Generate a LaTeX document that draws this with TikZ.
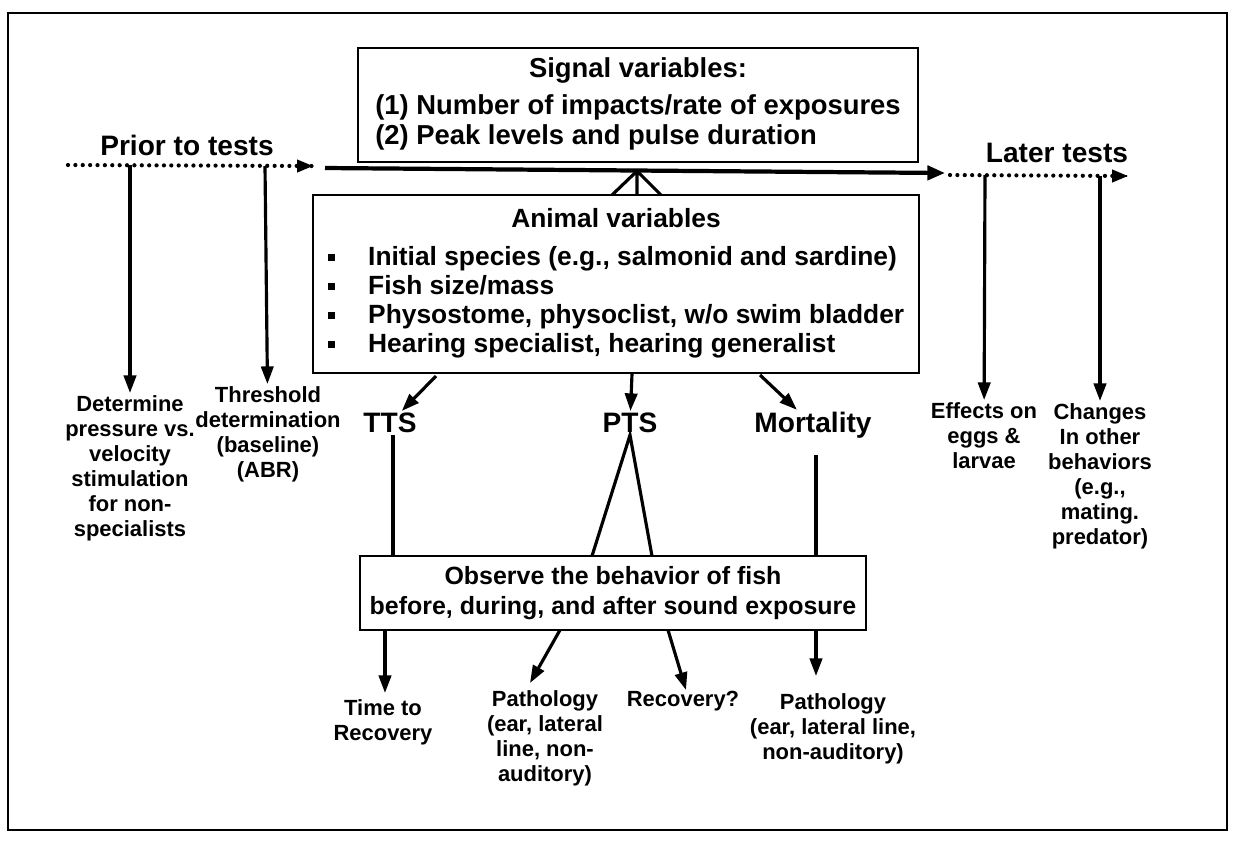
\documentclass[tikz,border=0pt]{standalone}
\usepackage{fontspec}
\setmainfont{Liberation Sans}
\usetikzlibrary{arrows.meta}

\tikzset{
  box/.style={draw,line width=1.1pt,inner sep=0pt},
  arr/.style={line width=1.8pt,-{Triangle[width=7pt,length=10pt]}},
  lnk/.style={line width=1.8pt},
  dots/.style={line width=2.4pt,dash pattern=on 0pt off 4.2pt,line cap=round},
  lbl/.style={font=\bfseries\fontsize{12.5}{14.3}\selectfont,align=center,inner sep=1pt},
  big/.style={font=\bfseries\fontsize{16}{19}\selectfont,inner sep=1pt},
}
\newcommand{\sqbul}{\raisebox{2.5pt}{\rule{4pt}{4pt}}}

\begin{document}
\begin{tikzpicture}[x=0.02cm,y=-0.02cm]
\useasboundingbox (0,0) rectangle (1241,843);
\draw[line width=0.9pt] (8,13) rectangle (1227,830);

% boxes
\node[box,font=\bfseries\fontsize{15.6}{17.2}\selectfont,minimum width=11.2cm,minimum height=2.28cm] (sig) at (638,105)
  {\begin{tabular}{@{}l@{}}\multicolumn{1}{@{}c@{}}{Signal variables:}\\[4pt]
   (1) Number of impacts/rate of exposures\\
   (2) Peak levels and pulse duration\end{tabular}};
\node[box,font=\bfseries\fontsize{15}{16.5}\selectfont,minimum width=12.14cm,minimum height=3.56cm] (anim) at (616,284)
  {\begin{tabular}{@{}l@{\hspace{19pt}}l@{}}\multicolumn{2}{@{}c@{}}{Animal variables}\\[5pt]
   \sqbul & Initial species (e.g., salmonid and sardine)\\
   \sqbul & Fish size/mass\\
   \sqbul & Physostome, physoclist, w/o swim bladder\\
   \sqbul & Hearing specialist, hearing generalist\end{tabular}};
\node[box,font=\bfseries\fontsize{14.2}{17.5}\selectfont,align=center,
  minimum width=10.12cm,minimum height=1.48cm] (obs) at (613,593)
  {Observe the behavior of fish\\before, during, and after sound exposure};

% time line
\node[big] (prior) at (187,145) {Prior to tests};
\node[big] (later) at (1057,153) {Later tests};
\coordinate (p0) at (68,165);
\coordinate (p1) at (312,166);
\coordinate (t0) at (325,168);
\coordinate (t1) at (945,173);
\coordinate (l0) at (950,175);
\coordinate (l1) at (1127,176);
\draw[dots] (p0)--(p1);
\draw[line width=1.6pt,-{Triangle[width=7pt,length=9pt]}] (p1)--++(1,0);
\draw[line width=2.4pt,-{Triangle[width=8pt,length=10pt]}] (t0)--(t1);
\draw[dots] (l0)--(l1);
\draw[line width=1.6pt,-{Triangle[width=7pt,length=9pt]}] (l1)--++(1,0);

% tests before and after
\coordinate (d0) at (130,165);
\coordinate (h0) at (265,166);
\coordinate (e0) at (985,175);
\coordinate (c0) at (1100,176);
\node[lbl,anchor=north] (det) at (130,393) {Determine\\pressure vs.\\velocity\\stimulation\\for non-\\specialists};
\node[lbl,anchor=north] (thr) at (268,384) {Threshold\\determination\\(baseline)\\(ABR)};
\node[lbl,anchor=north] (egg) at (984,400) {Effects on\\eggs \&\\larvae};
\node[lbl,anchor=north] (chg) at (1100,401) {Changes\\In other\\behaviors\\(e.g.,\\mating.\\predator)};
\draw[arr] (d0)--(det);
\draw[arr] (h0)--(thr);
\draw[arr] (e0)--(egg);
\draw[arr] (c0)--(chg);

% signal to animal
\coordinate (apex) at (637,171);
\coordinate (s1) at (612,195);
\coordinate (s2) at (637,195);
\coordinate (s3) at (661,195);
\draw[lnk] (s1)--(apex)--(s3) (apex)--(s2);

% effects
\node[big] (tts) at (390,423) {TTS};
\node[big] (pts) at (630,423) {PTS};
\node[big] (mort) at (813,425) {Mortality};
\coordinate (a1) at (436,376);
\coordinate (a2) at (632,374);
\coordinate (a3) at (760,375);
\draw[arr] (a1)--(tts);
\draw[arr] (a2)--(pts);
\draw[arr] (a3)--(mort);
\coordinate (o1) at (393,556);
\coordinate (o2) at (592,556);
\coordinate (o3) at (652,556);
\coordinate (o4) at (816,557);
\draw[lnk] (tts.south -| o1)--(o1);
\draw[lnk] (o2)--(pts.south)--(o3);
\draw[lnk] (816,455)--(o4);

% outcomes
\node[lbl,anchor=north] (ttr) at (383,697) {Time to\\Recovery};
\node[lbl,anchor=north] (path1) at (545,688) {Pathology\\(ear, lateral\\line, non-\\auditory)};
\node[lbl,anchor=north] (rec) at (683,689) {Recovery?};
\node[lbl,anchor=north] (path2) at (833,691) {Pathology\\(ear, lateral line,\\non-auditory)};
\coordinate (b1) at (385,630);
\coordinate (b2) at (560,630);
\coordinate (b3) at (668,630);
\coordinate (b4) at (816,630);
\coordinate (e1) at (385,693);
\coordinate (e2) at (530,683);
\coordinate (e3) at (686,690);
\coordinate (e4) at (816,676);
\draw[arr] (b1)--(e1);
\draw[arr] (b2)--(e2);
\draw[arr] (b3)--(e3);
\draw[arr] (b4)--(e4);
\end{tikzpicture}
\end{document}
